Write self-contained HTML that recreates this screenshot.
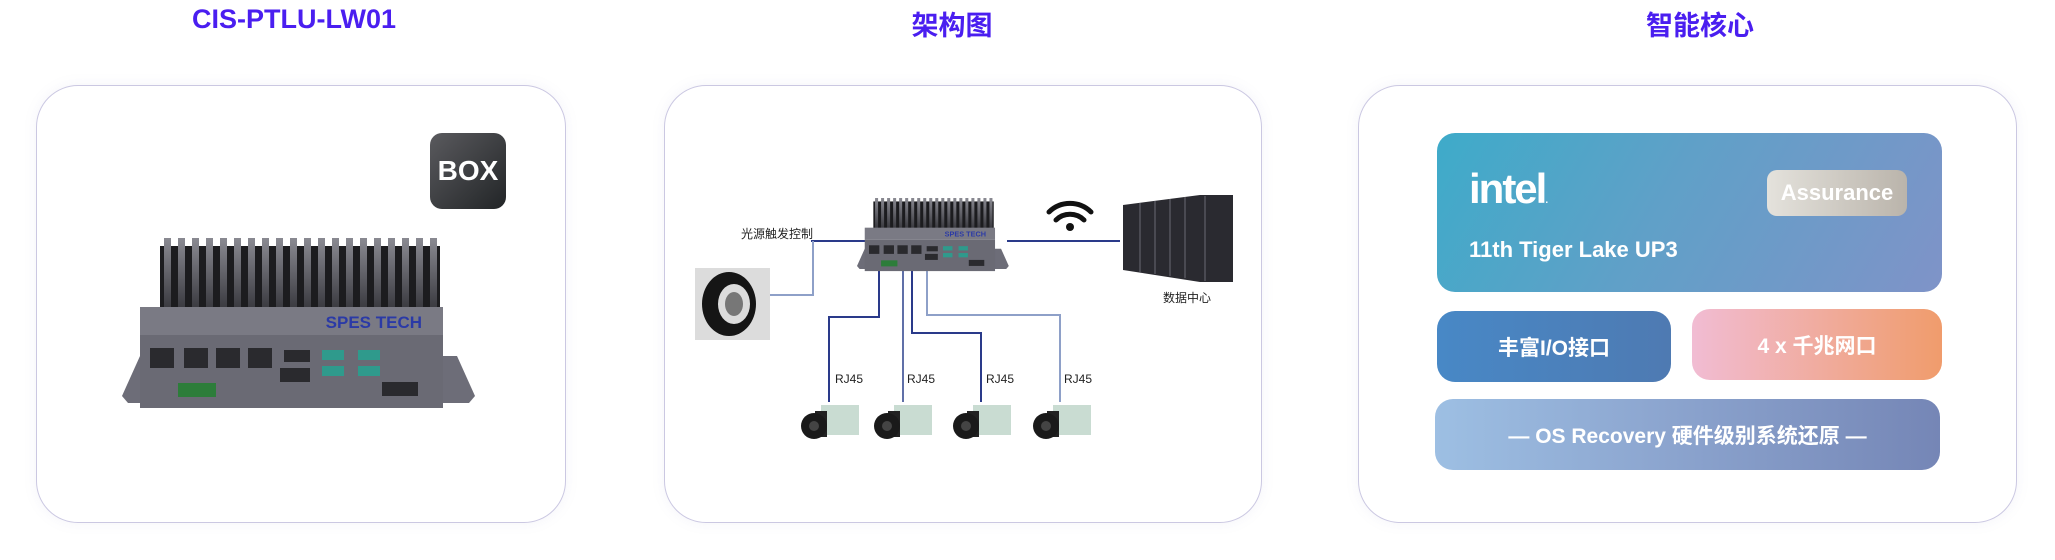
<!DOCTYPE html>
<html><head><meta charset="utf-8"><style>
body{margin:0;width:2055px;height:560px;background:#fff;position:relative;overflow:hidden;font-family:"Liberation Sans","Noto Sans CJK SC",sans-serif}
.t{position:absolute;top:4px;font-weight:bold;font-size:27px;color:#4a1ef0;text-align:center;width:400px}
.p{position:absolute;top:85px;height:438px;border:1.5px solid #cbc8e2;border-radius:42px;background:#fff;box-shadow:0 0 14px rgba(120,110,180,0.08);box-sizing:border-box}
.a{position:absolute}
.card{position:absolute;border-radius:18px;color:#fff;font-weight:bold;display:flex;align-items:center;justify-content:center}
</style></head><body>
<div class="t" style="left:94px">CIS-PTLU-LW01</div>
<div class="t" style="left:752px;top:4px">架构图</div>
<div class="t" style="left:1500px;top:4px">智能核心</div>
<div class="p" style="left:36px;width:530px"></div>
<div class="p" style="left:664px;width:598px"></div>
<div class="p" style="left:1358px;width:659px"></div>

<svg width="0" height="0" style="position:absolute"><defs>
<linearGradient id="fin" x1="0" y1="0" x2="0" y2="1"><stop offset="0" stop-color="#8a8a92"/><stop offset="1" stop-color="#3a3a40"/></linearGradient>
<g id="dev">
 <rect x="38" y="8" width="280" height="64" fill="#1c1c1f"/>
 <g fill="url(#fin)">
  <rect x="42" y="0" width="7" height="70"/><rect x="56" y="0" width="7" height="70"/><rect x="70" y="0" width="7" height="70"/><rect x="84" y="0" width="7" height="70"/><rect x="98" y="0" width="7" height="70"/><rect x="112" y="0" width="7" height="70"/><rect x="126" y="0" width="7" height="70"/><rect x="140" y="0" width="7" height="70"/><rect x="154" y="0" width="7" height="70"/><rect x="168" y="0" width="7" height="70"/><rect x="182" y="0" width="7" height="70"/><rect x="196" y="0" width="7" height="70"/><rect x="210" y="0" width="7" height="70"/><rect x="224" y="0" width="7" height="70"/><rect x="238" y="0" width="7" height="70"/><rect x="252" y="0" width="7" height="70"/><rect x="266" y="0" width="7" height="70"/><rect x="280" y="0" width="7" height="70"/><rect x="294" y="0" width="7" height="70"/><rect x="308" y="0" width="7" height="70"/>
 </g>
 <polygon points="6,165 0,158 18,118 335,118 353,158 347,165" fill="#6d6d78"/>
 <rect x="18" y="69" width="303" height="28" fill="#7a7a84"/>
 <text x="300" y="90" text-anchor="end" font-size="17" font-weight="bold" fill="#2b3aa6" font-family="Liberation Sans">SPES TECH</text>
 <rect x="18" y="97" width="303" height="73" fill="#6a6a74"/>
 <g fill="#2a2a2e"><rect x="28" y="110" width="24" height="20"/><rect x="62" y="110" width="24" height="20"/><rect x="94" y="110" width="24" height="20"/><rect x="126" y="110" width="24" height="20"/><rect x="162" y="112" width="26" height="12"/><rect x="158" y="130" width="30" height="14"/><rect x="260" y="144" width="36" height="14"/></g>
 <g fill="#2f9a8c"><rect x="200" y="112" width="22" height="10"/><rect x="236" y="112" width="22" height="10"/><rect x="200" y="128" width="22" height="10"/><rect x="236" y="128" width="22" height="10"/></g>
 <rect x="56" y="145" width="38" height="14" fill="#2d7d3a"/>
</g>
<g id="cam"><rect x="20" y="0" width="38" height="30" fill="#c9dcd2"/><rect x="14" y="6" width="12" height="26" fill="#222"/><circle cx="13" cy="21" r="13" fill="#1a1a1a"/><circle cx="13" cy="21" r="5" fill="#444"/></g>
</defs></svg>

<svg class="a" style="left:122px;top:238px" width="356" height="172"><use href="#dev"/></svg>
<div class="a" style="left:430px;top:133px;width:76px;height:76px;border-radius:12px;background:linear-gradient(135deg,#5a5a5e,#222527);color:#fff;font-weight:bold;font-size:28px;display:flex;align-items:center;justify-content:center">BOX</div>

<svg class="a" style="left:0;top:0" width="2055" height="560">
 <g fill="none" stroke="#2a3a8a" stroke-width="2">
  <polyline points="811,241 865,241"/>
  <polyline points="813,241 813,295 770,295" stroke="#8ea0c8"/>
  <polyline points="1007,241 1120,241"/>
  <polyline points="879,270 879,317 829,317 829,402"/>
  <polyline points="903,270 903,402" stroke="#6070a8"/>
  <polyline points="912,270 912,333 981,333 981,402"/>
  <polyline points="927,270 927,315 1060,315 1060,402" stroke="#8ea0c8"/>
 </g>
 <g transform="translate(857,198) scale(0.43)"><use href="#dev"/></g>
 <g font-size="12" fill="#222" font-family="Liberation Sans,Noto Sans CJK SC,sans-serif">
  <text x="741" y="238">光源触发控制</text>
  <text x="1163" y="302">数据中心</text>
  <text x="835" y="383">RJ45</text><text x="907" y="383">RJ45</text><text x="986" y="383">RJ45</text><text x="1064" y="383">RJ45</text>
 </g>
 <rect x="695" y="268" width="75" height="72" fill="#dcdcdc"/>
 <ellipse cx="729" cy="304" rx="27" ry="32" fill="#151515"/>
 <ellipse cx="734" cy="304" rx="16" ry="20" fill="#fff" opacity="0.85"/>
 <ellipse cx="734" cy="304" rx="9" ry="12" fill="#777"/>
 <g fill="none" stroke="#111" stroke-linecap="round" stroke-width="5">
  <path d="M1049,212 a30,30 0 0 1 42,0"/><path d="M1056,220 a20,20 0 0 1 28,0"/>
 </g>
 <circle cx="1070" cy="227" r="4" fill="#111"/>
 <polygon points="1123,205 1200,195 1233,195 1233,282 1200,282 1123,270" fill="#2a2a30"/>
 <g stroke="#55555e" stroke-width="1.5"><line x1="1140" y1="203" x2="1140" y2="272"/><line x1="1155" y1="201" x2="1155" y2="274"/><line x1="1170" y1="199" x2="1170" y2="276"/><line x1="1185" y1="197" x2="1185" y2="278"/><line x1="1205" y1="196" x2="1205" y2="281"/></g>
 <g transform="translate(801,405)"><use href="#cam"/></g>
 <g transform="translate(874,405)"><use href="#cam"/></g>
 <g transform="translate(953,405)"><use href="#cam"/></g>
 <g transform="translate(1033,405)"><use href="#cam"/></g>
</svg>

<div class="card" style="left:1437px;top:133px;width:505px;height:159px;background:linear-gradient(120deg,#3eabc9,#60a0c8 45%,#7f93c8);display:block">
 <div class="a" style="left:32px;top:32px;font-size:42px;letter-spacing:-2px;font-weight:bold">intel<span style="font-size:10px">.</span></div>
 <div class="a" style="left:32px;top:104px;font-size:22px">11th Tiger Lake UP3</div>
 <div class="a" style="left:330px;top:37px;width:140px;height:46px;border-radius:10px;background:linear-gradient(90deg,#e4e2dc,#bab4ab);color:#fff;font-size:22px;display:flex;align-items:center;justify-content:center">Assurance</div>
</div>
<div class="card" style="left:1437px;top:311px;width:234px;height:71px;background:linear-gradient(90deg,#4888c6,#4e7ab2);font-size:21px">丰富I/O接口</div>
<div class="card" style="left:1692px;top:309px;width:250px;height:71px;background:linear-gradient(90deg,#f1bcd3,#f09c6c);font-size:21px">4 x 千兆网口</div>
<div class="card" style="left:1435px;top:399px;width:505px;height:71px;background:linear-gradient(90deg,#9dbfe3,#8ca5cf 45%,#7586b6);font-size:21px">— OS Recovery 硬件级别系统还原 —</div>
</body></html>
